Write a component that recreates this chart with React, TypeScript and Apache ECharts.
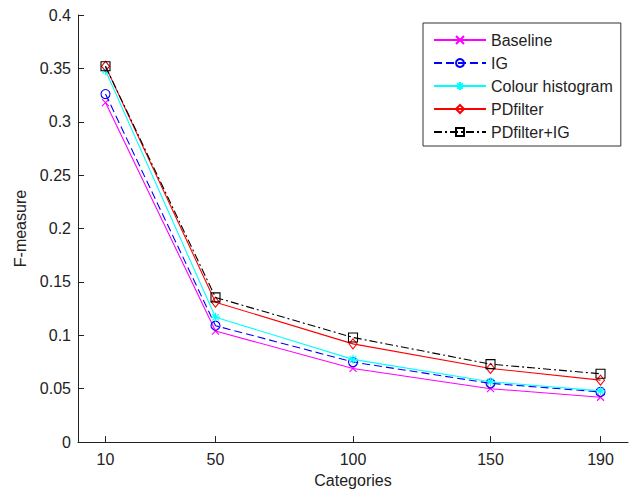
import React, { useEffect, useRef } from "react";
import * as echarts from "echarts";

const categories = [10, 50, 100, 150, 190];
const seriesNames = ["Baseline", "IG", "Colour histogram", "PDfilter", "PDfilter+IG"];
const baseline = [0.318, 0.104, 0.069, 0.05, 0.042];
const ig = [0.326, 0.109, 0.075, 0.055, 0.047];
const colourHist = [0.348, 0.117, 0.0775, 0.0565, 0.048];
const pdfilter = [0.352, 0.131, 0.092, 0.069, 0.058];
const pdfilterIg = [0.352, 0.1355, 0.098, 0.073, 0.064];
const yTicks = [0, 0.05, 0.1, 0.15, 0.2, 0.25, 0.3, 0.35, 0.4];

const FONT = "'Liberation Sans', Arial, Helvetica, sans-serif";
const TXT = "#222";

const X_SYM = "path://M0,0L8,8M8,0L0,8";
const STAR_SYM = "path://M4,0L4,8M0,4L8,4M1.2,1.2L6.8,6.8M6.8,1.2L1.2,6.8";

export default function App() {
  const ref = useRef<HTMLDivElement>(null);
  useEffect(() => {
    if (!ref.current) return;
    const chart = echarts.init(ref.current, undefined, { renderer: "svg" });
    const values = [baseline, ig, colourHist, pdfilter, pdfilterIg];
    const colors = ["#ff00ff", "#0000ff", "#00ffff", "#ff0000", "#000000"];
    const symbols = [X_SYM, "circle", STAR_SYM, "diamond", "rect"];
    const sizes = [7, 9, 9, [8, 10], 9];
    const dashes: any[] = ["solid", [8, 4], "solid", "solid", [8, 3, 2, 3]];
    const series = seriesNames.map((name, i) => ({
      name,
      type: "line",
      data: categories.map((c, j) => [c, values[i][j]]),
      symbol: symbols[i],
      symbolSize: sizes[i],
      showSymbol: true,
      lineStyle: { color: colors[i], width: 1.1, type: dashes[i] },
      itemStyle: { color: "rgba(0,0,0,0)", borderColor: colors[i], borderWidth: 1.1 },
      z: 2 + i,
    }));
    chart.setOption({
      animation: false,
      backgroundColor: "#fff",
      textStyle: { fontFamily: FONT },
      grid: { left: 78, right: 4, top: 15, bottom: 45, containLabel: false },
      legend: {
        orient: "vertical",
        left: 423,
        top: 23,
        width: 198,
        padding: [9, 8, 6, 10],
        itemWidth: 52,
        itemHeight: 10,
        itemGap: 7,
        backgroundColor: "#fff",
        borderColor: "#333",
        borderWidth: 1,
        textStyle: { fontFamily: FONT, fontSize: 16, color: TXT, lineHeight: 16 },
        data: seriesNames,
      },
      xAxis: {
        type: "value",
        min: 0,
        max: 200,
        name: "Categories",
        nameLocation: "middle",
        nameGap: 28,
        nameTextStyle: { fontFamily: FONT, fontSize: 16, color: TXT },
        axisLine: { show: true, onZero: false, lineStyle: { color: TXT, width: 1 } },
        axisTick: { show: true, inside: true, length: 6, customValues: categories, lineStyle: { color: TXT } },
        axisLabel: { customValues: categories, fontFamily: FONT, fontSize: 16, color: TXT, margin: 9 },
        splitLine: { show: false },
      },
      yAxis: {
        type: "value",
        min: 0,
        max: 0.4,
        interval: 0.05,
        name: "F-measure",
        nameLocation: "middle",
        nameRotate: 90,
        nameGap: 48,
        nameTextStyle: { fontFamily: FONT, fontSize: 16, color: TXT },
        axisLine: { show: true, onZero: false, lineStyle: { color: TXT, width: 1 } },
        axisTick: { show: true, inside: true, length: 6, lineStyle: { color: TXT } },
        axisLabel: {
          fontFamily: FONT,
          fontSize: 16,
          color: TXT,
          margin: 7,
          formatter: (v: number) => {
            const t = yTicks.find((k) => Math.abs(k - v) < 1e-9);
            return String(t !== undefined ? parseFloat(t.toFixed(2)) : v);
          },
        },
        splitLine: { show: false },
      },
      series,
    });
    return () => chart.dispose();
  }, []);
  return <div ref={ref} style={{ width: 632, height: 493, position: "absolute", left: 0, top: 0 }} />;
}
